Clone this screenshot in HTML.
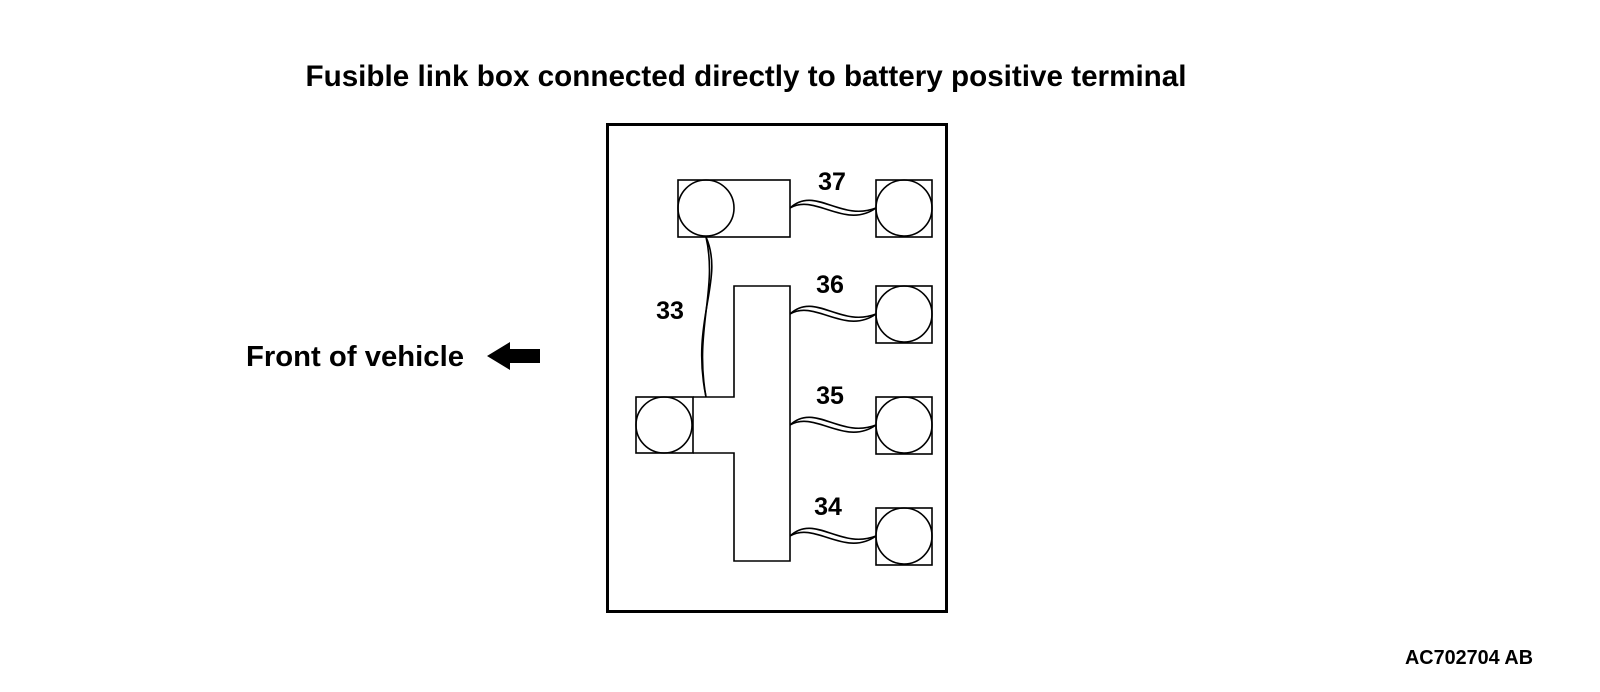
<!DOCTYPE html>
<html><head><style>
body{margin:0;background:#fff;width:1600px;height:692px;overflow:hidden}
svg{display:block}
text{font-family:"Liberation Sans",sans-serif;font-weight:bold;fill:#000}
</style></head><body>
<svg width="1600" height="692" viewBox="0 0 1600 692">
<text x="746" y="86" font-size="29.5" text-anchor="middle" textLength="881" lengthAdjust="spacingAndGlyphs">Fusible link box connected directly to battery positive terminal</text>
<text x="246" y="366" font-size="29" textLength="218" lengthAdjust="spacingAndGlyphs">Front of vehicle</text>
<polygon points="487,356 510,342 510,349 540,349 540,363 510,363 510,370" fill="#000"/>
<text x="1533" y="664" font-size="20" text-anchor="end" textLength="128" lengthAdjust="spacingAndGlyphs">AC702704 AB</text>
<rect x="607.5" y="124.5" width="339" height="487" fill="none" stroke="#000" stroke-width="3"/>
<g fill="none" stroke="#000" stroke-width="1.6">
<rect x="678" y="180" width="112" height="57"/>
<circle cx="706" cy="208" r="28"/>
<rect x="636" y="397" width="57" height="56"/>
<circle cx="664" cy="425" r="28"/>
<path d="M693,397 H734 V286 H790 V561 H734 V453 H693"/>
<g id="t">
<rect x="876" y="180" width="56" height="57"/>
<circle cx="904" cy="208" r="28"/>
<path d="M790,208 C815,185 840,222 876,208"/>
<path d="M790,208 C815,193 845,230 876,208"/>
</g>
<use href="#t" y="106"/>
<use href="#t" y="217"/>
<use href="#t" y="328"/>
<path d="M706,237 C725,280 690,320 706,397"/>
<path d="M706,237 C718,290 694,330 706,397"/>
</g>
<text x="832" y="190" font-size="25" text-anchor="middle">37</text>
<text x="830" y="293" font-size="25" text-anchor="middle">36</text>
<text x="830" y="404" font-size="25" text-anchor="middle">35</text>
<text x="828" y="515" font-size="25" text-anchor="middle">34</text>
<text x="670" y="319" font-size="25" text-anchor="middle">33</text>
</svg>
</body></html>
